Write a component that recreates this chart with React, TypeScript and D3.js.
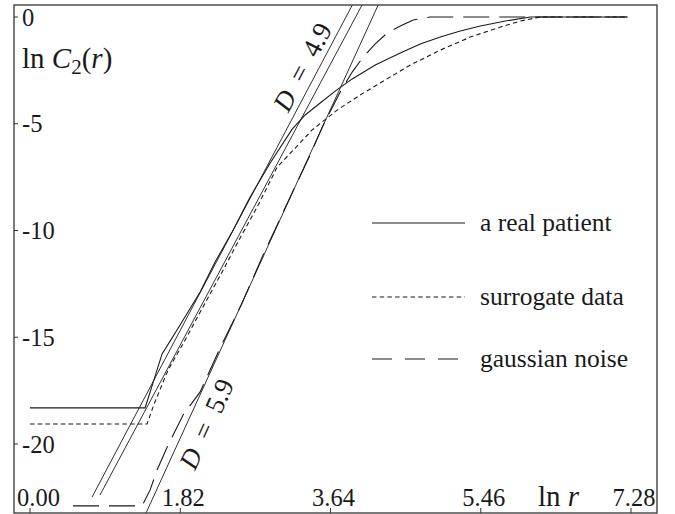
import React from 'react';
import * as d3 from 'd3';

const W = 675;
const H = 514;
const frame = { left: 14, right: 657, top: 5, bottom: 513 };
const FONT = "'Liberation Serif', 'Times New Roman', serif";
const INK = '#1a1a1a';

// axis ticks
const xTicks = [0, 1.82, 3.64, 5.46, 7.28];
const xTickLabels = ['0.00', '1.82', '3.64', '5.46', '7.28'];
const yTicks = [0, -5, -10, -15, -20];
const yTickLabels = ['0', '-5', '-10', '-15', '-20'];

// a real patient: ln r / ln C2(r)
const patientLnR = [0.0, 1.394, 1.6, 1.818, 2.061, 2.242, 2.448, 2.667, 2.909, 3.176, 3.333, 3.515, 3.697, 3.903, 4.182, 4.485, 4.727, 4.97, 5.212, 5.455, 5.758, 6.061, 7.236];
const patientLnC = [-18.31, -18.31, -15.78, -14.43, -12.88, -11.48, -10.07, -8.43, -6.84, -5.25, -4.59, -4.03, -3.47, -2.9, -2.25, -1.69, -1.26, -0.94, -0.66, -0.42, -0.19, 0, 0];

// surrogate data
const surrogateLnR = [0.0, 1.418, 1.503, 1.673, 1.879, 2.121, 2.327, 2.545, 2.764, 2.994, 3.212, 3.418, 3.721, 4.0, 4.242, 4.606, 4.97, 5.333, 5.697, 5.939, 6.182, 7.236];
const surrogateLnC = [-19.06, -19.06, -18.13, -16.53, -15.13, -13.4, -11.94, -10.35, -8.81, -7.03, -6.14, -5.29, -4.36, -3.65, -3.09, -2.25, -1.55, -0.94, -0.47, -0.19, 0, 0];

// gaussian noise
const noiseLnR = [0.521, 1.358, 1.455, 1.539, 1.673, 1.855, 2.061, 2.303, 2.558, 2.824, 3.152, 3.394, 3.552, 3.758, 3.903, 4.036, 4.182, 4.327, 4.485, 4.642, 4.848, 7.236];
const noiseLnC = [-22.9, -22.9, -22.15, -21.22, -20.05, -18.64, -17.56, -15.5, -13.49, -11.15, -8.43, -6.46, -5.06, -3.51, -2.58, -1.87, -1.26, -0.75, -0.42, -0.14, 0, 0];

// fitted straight lines
const fitSlopes = [7.31, 7.23, 8.46];
const fitIntercepts = [-27.98, -28.52, -35.12];
const fitStarts = [0.752, 0.848, 1.4];
const fitLabels = ['D = 4.9', '', 'D = 5.9'];

const legendNames = ['a real patient', 'surrogate data', 'gaussian noise'];

const x = d3.scaleLinear().domain([0, 7.28]).range([30, 631]);
const y = d3.scaleLinear().domain([0, -20]).range([17, 444]);

const line = d3
  .line<[number, number]>()
  .x(d => x(d[0]))
  .y(d => y(d[1]));

const zip = (a: number[], b: number[]) => a.map((v, i) => [v, b[i]] as [number, number]);

const series = [
  { pts: zip(patientLnR, patientLnC), dash: undefined as string | undefined, legendDash: undefined as string | undefined },
  { pts: zip(surrogateLnR, surrogateLnC), dash: '4.5,3.2', legendDash: '4.5,3.2' },
  { pts: zip(noiseLnR, noiseLnC), dash: '26,10', legendDash: '20,13' },
];

// label placement along fit lines (px along y, sideways shift)
const labelAt = [{ py: 67, dx: -17 }, null, { py: 424, dx: 20 }];
const legendRows = [223, 297, 359];

const txt = { fontFamily: FONT, fill: INK } as const;

const App = () => {
  const yTop = y.invert(frame.top - 2);
  const fits = fitSlopes.map((m, i) => {
    const b = fitIntercepts[i];
    const x0 = fitStarts[i];
    const x1 = (yTop - b) / m;
    return { m, b, pts: [[x0, m * x0 + b], [x1, m * x1 + b]] as [number, number][] };
  });

  return (
    <svg width={W} height={H} style={{ position: 'absolute', left: 0, top: 0, background: '#fff', fontFamily: FONT }}>
      <defs>
        <clipPath id="plot">
          <rect x={frame.left} y={frame.top} width={frame.right - frame.left} height={frame.bottom - frame.top} />
        </clipPath>
      </defs>
      <rect x={0} y={0} width={W} height={H} fill="#fff" />

      <g clipPath="url(#plot)" fill="none" stroke={INK} strokeWidth={1.1}>
        {fits.map((f, i) => (
          <path key={'f' + i} d={line(f.pts) || ''} strokeWidth={0.9} />
        ))}
        {series.map((s, i) => (
          <path key={'s' + i} d={line(s.pts) || ''} strokeDasharray={s.dash} />
        ))}
      </g>

      {/* fit labels */}
      {fits.map((f, i) => {
        const pos = labelAt[i];
        if (!pos || !fitLabels[i]) return null;
        const yv = y.invert(pos.py);
        const xv = (yv - f.b) / f.m;
        const cx = x(xv) + pos.dx;
        const ang = (Math.atan2(y(f.m * 4 + f.b) - y(f.m * 2 + f.b), x(4) - x(2)) * 180) / Math.PI;
        const [d, rest] = [fitLabels[i].slice(0, 1), fitLabels[i].slice(1)];
        return (
          <text
            key={'l' + i}
            transform={`translate(${cx},${pos.py}) rotate(${ang})`}
            textAnchor="middle"
            dominantBaseline="central"
            fontSize={27}
            style={{ whiteSpace: 'pre', ...txt }}
          >
            <tspan fontStyle="italic">{d}</tspan>
            <tspan>{rest.replace('=', ' = ')}</tspan>
          </text>
        );
      })}

      {/* frame */}
      <rect
        x={frame.left}
        y={frame.top}
        width={frame.right - frame.left}
        height={frame.bottom - frame.top}
        fill="none"
        stroke="#333"
        strokeWidth={1.3}
      />

      {/* y ticks */}
      {yTicks.map((t, i) => (
        <g key={'yt' + i}>
          <line x1={frame.left} x2={frame.left + 4} y1={y(t)} y2={y(t)} stroke="#333" strokeWidth={1} />
          <text x={frame.left + 8} y={y(t)} dy="0.35em" fontSize={24.5} style={txt}>
            {yTickLabels[i]}
          </text>
        </g>
      ))}

      {/* x ticks */}
      {xTicks.map((t, i) => (
        <g key={'xt' + i}>
          <line x1={x(t)} x2={x(t)} y1={frame.bottom} y2={frame.bottom - 5} stroke="#333" strokeWidth={1} />
          <text
            x={i === 0 ? frame.left + 3 : x(t) + 3}
            y={506}
            textAnchor={i === 0 ? 'start' : 'middle'}
            fontSize={24.5}
            style={txt}
          >
            {xTickLabels[i]}
          </text>
        </g>
      ))}

      {/* axis labels */}
      <text x={22} y={68} fontSize={29} style={{ whiteSpace: 'pre', ...txt }}>
        <tspan>ln </tspan>
        <tspan fontStyle="italic">C</tspan>
        <tspan fontSize={21} dy={6}>2</tspan>
        <tspan dy={-6}>(</tspan>
        <tspan fontStyle="italic">r</tspan>
        <tspan>)</tspan>
      </text>
      <text x={538} y={506} fontSize={29} style={{ whiteSpace: 'pre', ...txt }}>
        <tspan>ln </tspan>
        <tspan fontStyle="italic">r</tspan>
      </text>

      {/* legend */}
      {legendNames.map((name, i) => (
        <g key={'lg' + i}>
          <line
            x1={372}
            x2={i === 2 ? 458 : 465}
            y1={legendRows[i]}
            y2={legendRows[i]}
            stroke={INK}
            strokeWidth={1.1}
            strokeDasharray={series[i].legendDash}
          />
          <text x={480} y={legendRows[i]} dy="0.3em" fontSize={25.5} style={txt}>
            {name}
          </text>
        </g>
      ))}
    </svg>
  );
};

export default App;
